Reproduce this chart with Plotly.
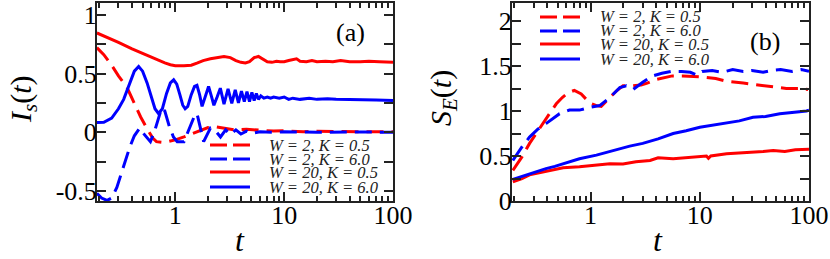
import plotly.graph_objects as go

# ---------------- data: panel (a) I_s(t) ----------------
t_a_red_dash = [0.19, 0.22, 0.26, 0.3, 0.36, 0.42, 0.48, 0.55, 0.62, 0.67, 0.75, 0.85, 1.0, 1.2, 1.45, 1.7, 2.0, 2.4, 2.8, 3.5, 4.5, 6, 8, 10, 15, 20, 30, 50, 100]
i_a_red_dash = [0.72, 0.66, 0.57, 0.48, 0.38, 0.24, 0.13, 0.03, -0.05, -0.08, -0.085, -0.08, -0.065, -0.04, -0.01, 0.02, 0.04, 0.045, 0.035, 0.02, 0.025, 0.015, 0.01, 0.012, 0.005, 0.008, 0.005, 0.004, 0.005]

t_a_blue_dash = [0.19, 0.21, 0.236, 0.26, 0.29, 0.335, 0.38, 0.42, 0.47, 0.52, 0.59, 0.64, 0.7, 0.75, 0.8, 0.88, 0.96, 1.04, 1.2, 1.35, 1.5, 1.58, 1.66, 1.82, 1.96, 2.1, 2.35, 2.6, 2.9, 3.2, 3.6, 4.0, 4.5, 5.0, 6.0, 8.0, 10, 20, 50, 100]
i_a_blue_dash = [-0.52, -0.56, -0.58, -0.56, -0.47, -0.29, -0.13, -0.03, 0.035, -0.02, -0.08, 0.0, 0.12, 0.21, 0.18, 0.05, -0.04, -0.08, -0.08, 0.03, 0.14, 0.16, 0.07, -0.08, -0.02, 0.035, 0.01, -0.04, 0.02, -0.02, 0.02, -0.015, 0.01, -0.01, 0.005, 0.0, 0.005, 0.0, 0.002, 0.0]

t_a_red_solid = [0.19, 0.25, 0.3, 0.4, 0.5, 0.6, 0.7, 0.8, 0.9, 1.0, 1.2, 1.4, 1.6, 1.8, 2.1, 2.5, 2.8, 3.2, 3.6, 4.0, 4.4, 4.8, 5.3, 5.8, 6.4, 7.0, 7.7, 8.5, 9.2, 10, 11, 12, 13, 14, 16, 18, 20, 24, 28, 33, 40, 50, 60, 75, 100]
i_a_red_solid = [0.845, 0.80, 0.765, 0.71, 0.67, 0.635, 0.61, 0.59, 0.575, 0.567, 0.565, 0.57, 0.59, 0.61, 0.625, 0.64, 0.645, 0.635, 0.61, 0.595, 0.59, 0.6, 0.635, 0.645, 0.625, 0.6, 0.595, 0.605, 0.6, 0.6, 0.61, 0.615, 0.625, 0.605, 0.6, 0.61, 0.6, 0.605, 0.6, 0.61, 0.6, 0.6, 0.605, 0.6, 0.595]

t_a_blue_solid = [0.19, 0.22, 0.26, 0.30, 0.335, 0.38, 0.42, 0.46, 0.5, 0.55, 0.6, 0.65, 0.70, 0.76, 0.83, 0.9, 0.965, 1.03, 1.1, 1.17, 1.23, 1.3, 1.4, 1.5, 1.58, 1.67, 1.76, 1.88, 2.02, 2.14, 2.26, 2.42, 2.59, 2.8, 3.05, 3.3, 3.55, 3.8, 4.05, 4.3, 4.55, 4.8, 5.05, 5.3, 5.55, 5.8, 6.1, 6.5, 7, 7.5, 8, 9, 10, 11, 12, 14, 17, 20, 25, 30, 40, 50, 70, 100]
i_a_blue_solid = [0.082, 0.085, 0.12, 0.2, 0.28, 0.42, 0.52, 0.56, 0.52, 0.42, 0.30, 0.2, 0.16, 0.2, 0.33, 0.42, 0.446, 0.41, 0.32, 0.23, 0.2, 0.22, 0.32, 0.39, 0.40, 0.32, 0.22, 0.3, 0.39, 0.31, 0.23, 0.3, 0.375, 0.24, 0.37, 0.245, 0.36, 0.25, 0.35, 0.26, 0.345, 0.26, 0.34, 0.27, 0.33, 0.28, 0.31, 0.29, 0.30, 0.29, 0.30, 0.29, 0.30, 0.28, 0.29, 0.28, 0.29, 0.28, 0.285, 0.28, 0.28, 0.275, 0.275, 0.27]

# ---------------- data: panel (b) S_E(t) ----------------
t_b_red_dash = [0.194, 0.235, 0.276, 0.32, 0.365, 0.42, 0.485, 0.55, 0.62, 0.71, 0.82, 0.98, 1.13, 1.25, 1.5, 1.75, 1.98, 2.2, 2.45, 2.9, 3.3, 4.0, 5.6, 7.0, 10, 14, 17.6, 25, 35, 48, 62, 80, 98]
s_b_red_dash = [0.34, 0.49, 0.64, 0.76, 0.86, 0.97, 1.08, 1.15, 1.2, 1.23, 1.19, 1.09, 1.06, 1.05, 1.15, 1.23, 1.28, 1.28, 1.28, 1.29, 1.31, 1.35, 1.39, 1.39, 1.38, 1.36, 1.33, 1.31, 1.29, 1.27, 1.25, 1.25, 1.24]

t_b_blue_dash = [0.194, 0.235, 0.276, 0.33, 0.39, 0.45, 0.52, 0.64, 0.79, 0.98, 1.21, 1.5, 1.85, 2.12, 2.45, 3.0, 3.7, 4.5, 5.5, 6.8, 8.2, 9.4, 10.5, 13, 16, 20, 25, 30, 38, 45, 55, 70, 85, 100]
s_b_blue_dash = [0.45, 0.6, 0.71, 0.8, 0.86, 0.91, 0.97, 1.01, 1.01, 1.04, 1.06, 1.15, 1.26, 1.28, 1.24, 1.32, 1.39, 1.42, 1.44, 1.44, 1.43, 1.40, 1.44, 1.45, 1.43, 1.46, 1.44, 1.45, 1.43, 1.45, 1.46, 1.44, 1.46, 1.44]

t_b_red_solid = [0.194, 0.235, 0.276, 0.33, 0.39, 0.47, 0.56, 0.79, 1.13, 1.5, 1.98, 2.6, 3.5, 4.15, 5.7, 8.6, 11.5, 12, 12.6, 17.6, 22, 30.7, 38, 47, 60, 75, 95, 100]
s_b_red_solid = [0.213, 0.25, 0.29, 0.31, 0.33, 0.35, 0.37, 0.38, 0.40, 0.415, 0.41, 0.435, 0.45, 0.48, 0.47, 0.49, 0.50, 0.475, 0.50, 0.525, 0.53, 0.54, 0.55, 0.56, 0.55, 0.57, 0.58, 0.575]

t_b_blue_solid = [0.194, 0.235, 0.276, 0.33, 0.39, 0.47, 0.56, 0.66, 0.79, 1.13, 1.6, 2.28, 3.0, 4.15, 5.7, 7.5, 10, 13, 17.6, 23, 30.7, 40, 54, 70, 95, 100]
s_b_blue_solid = [0.24, 0.275, 0.305, 0.335, 0.36, 0.385, 0.415, 0.44, 0.47, 0.51, 0.56, 0.61, 0.64, 0.69, 0.75, 0.78, 0.82, 0.84, 0.87, 0.89, 0.93, 0.94, 0.97, 0.98, 1.0, 1.01]

legend_names = ["W = 2, K = 0.5", "W = 2, K = 6.0", "W = 20, K = 0.5", "W = 20, K = 6.0"]

RED = "#ff0000"
BLUE = "#0000ff"
DASH = "17px,8px"
LEG_DASH = "17px,6px"
LW = 3
W, H = 830, 259

fig = go.Figure()

panel_a = [(t_a_red_dash, i_a_red_dash, RED, DASH), (t_a_blue_dash, i_a_blue_dash, BLUE, DASH),
           (t_a_red_solid, i_a_red_solid, RED, "solid"), (t_a_blue_solid, i_a_blue_solid, BLUE, "solid")]
panel_b = [(t_b_red_dash, s_b_red_dash, RED, DASH), (t_b_blue_dash, s_b_blue_dash, BLUE, DASH),
           (t_b_red_solid, s_b_red_solid, RED, "solid"), (t_b_blue_solid, s_b_blue_solid, BLUE, "solid")]

for (x, y, c, d), name in zip(panel_a, legend_names):
    fig.add_trace(go.Scatter(x=x, y=y, mode="lines", name=name, showlegend=False,
                             line=dict(color=c, width=LW, dash=d), xaxis="x", yaxis="y"))
for (x, y, c, d), name in zip(panel_b, legend_names):
    fig.add_trace(go.Scatter(x=x, y=y, mode="lines", name=name, showlegend=False,
                             line=dict(color=c, width=LW, dash=d), xaxis="x2", yaxis="y2"))

FONT = "Liberation Serif, Times New Roman, DejaVu Serif, serif"
AXC = "#222222"
minor_x = [0.2, 0.3, 0.4, 0.5, 0.6, 0.7, 0.8, 0.9, 2, 3, 4, 5, 6, 7, 8, 9, 20, 30, 40, 50, 60, 70, 80, 90]

def xaxis(domain, anchor):
    return dict(type="log", domain=domain, anchor=anchor, range=[-0.72, 2.0], automargin=False,
                showline=True, linecolor=AXC, linewidth=2, mirror="allticks",
                ticks="inside", ticklen=9, tickwidth=1.5, tickcolor=AXC,
                tickmode="array", tickvals=[1, 10, 100], ticktext=["1", "10", "100"],
                minor=dict(ticks="inside", ticklen=5, tickwidth=1.5, tickcolor=AXC,
                           tickmode="array", tickvals=minor_x, showgrid=False),
                showgrid=False, zeroline=False, ticklabelstandoff=-10,
                tickfont=dict(family=FONT, size=26, color="black"))

def yaxis(domain, anchor, rng, tv, tt, minor_v):
    return dict(domain=domain, anchor=anchor, range=rng, automargin=False,
                showline=True, linecolor=AXC, linewidth=2, mirror="allticks",
                ticks="inside", ticklen=9, tickwidth=1.5, tickcolor=AXC,
                tickmode="array", tickvals=tv, ticktext=tt,
                minor=dict(ticks="inside", ticklen=9, tickwidth=1.5, tickcolor=AXC,
                           tickmode="array", tickvals=minor_v, showgrid=False),
                showgrid=False, zeroline=False, ticklabelstandoff=-7,
                tickfont=dict(family=FONT, size=26, color="black"))

def ann(text, px, py, size, **kw):
    return dict(text=text, x=px / W, y=1 - py / H, xref="paper", yref="paper",
                xanchor=kw.pop("xanchor", "center"), yanchor="middle", showarrow=False,
                font=dict(family=FONT, size=size, color=kw.pop("color", "black")), **kw)

# manual legends (paper coordinates in pixels)
leg_rows_a = [145, 159, 172, 187]
leg_rows_b = [17, 31, 44, 59]
leg_styles = [(RED, LEG_DASH), (BLUE, LEG_DASH), (RED, "solid"), (BLUE, "solid")]
shapes = []
annotations = []
for (x0, x1, xt, rows) in [(210, 250, 267, leg_rows_a), (540, 580, 598, leg_rows_b)]:
    for (c, d), yy, name in zip(leg_styles, rows, legend_names):
        shapes.append(dict(type="line", xref="paper", yref="paper",
                           x0=x0 / W, x1=x1 / W, y0=1 - yy / H, y1=1 - yy / H,
                           line=dict(color=c, width=LW, dash=d)))
        annotations.append(ann("<i>" + name + "</i>", xt, yy, 16.5, xanchor="left", color="#222"))
annotations += [
    ann("(a)", 350, 33, 26),
    ann("(b)", 765, 41, 26),
    ann("<i>t</i>", 240, 240, 32),
    ann("<i>t</i>", 658, 240, 32),
    ann("<i>I<sub>s</sub></i>(<i>t</i>)", 23, 99, 30, textangle=-90),
    ann("<i>S<sub>E</sub></i>(<i>t</i>)", 443, 98, 30, textangle=-90),
]

ydom = [1 - 201 / H, 1 - 3 / H]
fig.update_layout(
    width=W, height=H,
    margin=dict(l=0, r=0, t=0, b=0),
    paper_bgcolor="white", plot_bgcolor="white",
    xaxis=xaxis([97 / W, 393 / W], "y"),
    yaxis=yaxis(ydom, "x", [-0.585, 1.1], [-0.5, 0, 0.5, 1], ["-0.5", "0", "0.5", "1"],
                [-0.25, 0.25, 0.75]),
    xaxis2=xaxis([512 / W, 809 / W], "y2"),
    yaxis2=yaxis(ydom, "x2", [0, 2.2], [0, 0.5, 1, 1.5, 2], ["0", "0.5", "1", "1.5", "2"],
                 [0.25, 0.75, 1.25, 1.75]),
    shapes=shapes,
    annotations=annotations,
    showlegend=False,
)

fig.write_html("out.html", config={"displayModeBar": False},
               post_script="document.body.style.margin='0';document.body.style.overflow='hidden';")
